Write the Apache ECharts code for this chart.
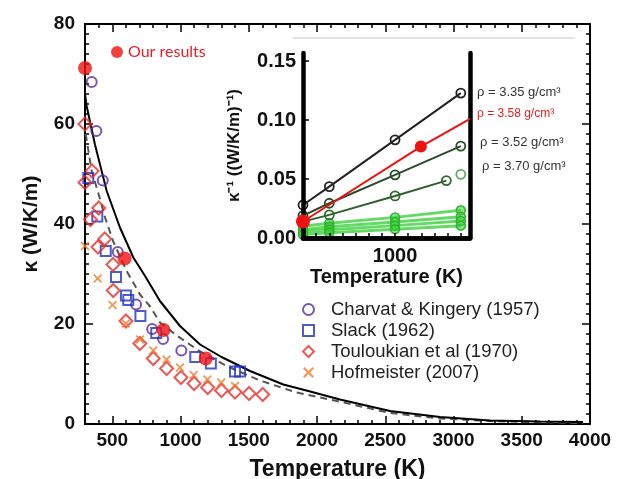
<!DOCTYPE html>
<html>
<head>
<meta charset="utf-8">
<script src="https://cdn.jsdelivr.net/npm/echarts@6/dist/echarts.min.js"></script>
<style>
  html, body { margin: 0; padding: 0; background: #fff; }
  #chart { width: 617px; height: 479px; }
</style>
</head>
<body>
<div id="chart"></div>
<script>
// main plot: kappa (W/K/m) vs temperature (K)
const majorTicksX = [500, 1000, 1500, 2000, 2500, 3000, 3500, 4000]
const solidCurve = [[300, 66], [312, 63.6], [373, 55.9], [459, 46.6], [556, 39.3], [654, 33.3], [740, 29.6], [849, 24.6], [996, 19.6], [1143, 15.9], [1300, 13.4], [1509, 10.6], [1753, 7.9], [1936, 6.6], [2168, 4.9], [2535, 2.6], [2901, 1.4], [3267, 0.7], [3634, 0.5], [3949, 0.4]]
const dashedCurve = [[305, 58], [349, 50.6], [410, 45], [447, 41.3], [507, 36.5], [605, 30.6], [703, 25.9], [777, 23.5], [849, 20.3], [972, 17.7], [1143, 14.5], [1338, 11.6], [1582, 8.7], [1850, 6.3], [2144, 4.6], [2535, 2.2], [2901, 1.1], [3267, 0.6], [3634, 0.35], [3949, 0.2]]
const charvat = [[349, 68.4], [383, 58.6], [430, 48.7], [540, 34.4], [674, 23.9], [792, 19.0], [872, 17.0], [1006, 14.7]]
const slack = [[324, 49.2], [390, 41.5], [452, 34.6], [527, 29.4], [600, 25.7], [617, 24.8], [706, 21.6], [822, 18.2], [1108, 13.4], [1222, 12.1], [1399, 10.5], [1436, 10.5]]
const touloukian = [[300, 60], [300, 48.3], [340, 40.9], [352, 50.6], [401, 43.2], [395, 35.4], [445, 37], [505, 31.9], [507, 26.7], [600, 20.6], [702, 16.1], [800, 13.1], [898, 11.1], [1003, 9.3], [1099, 8.1], [1199, 7.3], [1300, 6.7], [1399, 6.4], [1502, 6.1], [1602, 5.9]]
const hofmeister = [[300, 35.6], [393, 29.1], [502, 23.8], [599, 20.1], [703, 16.9], [800, 14.7], [898, 12.9], [996, 11.3], [1096, 9.8], [1197, 8.9], [1298, 8.3], [1399, 7.6]]
const ourResults = [[300, 71.2], [590, 33.1], [875, 18.8], [1185, 13.1]]

// inset: 1/kappa vs temperature
const insetBlack = [[300, 0.028], [500, 0.0436], [1000, 0.0833], [1500, 0.123]]
const insetRed = [[300, 0.014], [1196, 0.0776], [1570, 0.101]]
const insetDark1 = [[300, 0.019], [500, 0.0295], [1000, 0.0536], [1500, 0.078]]
const insetDark2 = [[300, 0.0139], [500, 0.0196], [1000, 0.0357], [1390, 0.0487]]
const insetDarkDot = [[1500, 0.054]]
const insetGreen = [
  [[300, 0.010], [500, 0.0125], [1000, 0.0175], [1500, 0.0235]],
  [[300, 0.007], [500, 0.0095], [1000, 0.0135], [1500, 0.018]],
  [[300, 0.005], [500, 0.007], [1000, 0.0105], [1500, 0.0145]],
  [[300, 0.003], [500, 0.0045], [1000, 0.0075], [1500, 0.0105]]
]
const densityLabels = ['ρ = 3.35 g/cm³', 'ρ = 3.58 g/cm³', 'ρ = 3.52 g/cm³', 'ρ = 3.70 g/cm³']

const FONT = 'Liberation Sans'
const crossPath = 'path://M0,1.4L1.4,0L5,3.6L8.6,0L10,1.4L6.4,5L10,8.6L8.6,10L5,6.4L1.4,10L0,8.6L3.6,5Z'

const chart = echarts.init(document.getElementById('chart'))

const tickLabel = { fontFamily: FONT, fontWeight: 'bold', fontSize: 19, color: '#111' }
const blackLine = { lineStyle: { color: '#000', width: 2 } }
const plain = (v) => String(v)

// open markers, overlapping ones stay visible
const hollow = (color, w) => ({ color: 'rgba(255,255,255,0)', borderColor: color, borderWidth: w })

const greenSeries = insetGreen.map((d) => ({
  type: 'line',
  xAxisIndex: 4,
  yAxisIndex: 2,
  data: d,
  symbol: 'circle',
  symbolSize: 9,
  itemStyle: { color: 'rgba(60,205,60,0.6)', borderColor: '#2fb52f', borderWidth: 1.5 },
  lineStyle: { color: '#3fcf3f', width: 3, opacity: 0.8 },
  z: 3
}))

chart.setOption({
  animation: false,
  backgroundColor: '#fff',
  grid: [
    { left: 85, right: 27, top: 24, bottom: 55, outerBoundsMode: 'none', containLabel: false },
    { left: 303, top: 53, width: 167, height: 185, outerBoundsMode: 'none', containLabel: false }
  ],
  legend: [
    {
      left: 302,
      top: 300,
      orient: 'vertical',
      itemWidth: 11,
      itemHeight: 11,
      itemGap: 2,
      padding: 0,
      textStyle: { fontFamily: FONT, fontSize: 18.5, color: '#222', padding: [0, 0, 0, 12] },
      data: ['Charvat & Kingery (1957)', 'Slack (1962)', 'Touloukian et al (1970)', 'Hofmeister (2007)']
    },
    {
      left: 111,
      top: 44,
      itemWidth: 12,
      itemHeight: 12,
      padding: 0,
      textStyle: { fontFamily: 'Lato', fontSize: 16, color: '#e0202a' },
      data: ['Our results']
    }
  ],
  xAxis: [
    {
      gridIndex: 0, type: 'value', position: 'bottom', min: 300, max: 4000,
      axisLine: blackLine,
      axisTick: { inside: true, length: 8, customValues: majorTicksX, lineStyle: { color: '#000', width: 1.5 } },
      axisLabel: Object.assign({ customValues: majorTicksX, margin: 7, formatter: plain }, tickLabel),
      splitLine: { show: false },
      name: 'Temperature (K)',
      nameLocation: 'middle',
      nameGap: 34,
      nameTextStyle: { fontFamily: FONT, fontWeight: 'bold', fontSize: 23, color: '#111' }
    },
    {
      gridIndex: 0, type: 'value', position: 'bottom', offset: 0, min: 300, max: 4000, interval: 100,
      axisLine: { show: false },
      axisTick: { inside: true, length: 4, lineStyle: { color: '#000', width: 1.5 } },
      axisLabel: { show: false },
      splitLine: { show: false }
    },
    {
      gridIndex: 0, type: 'value', position: 'top', min: 300, max: 4000,
      axisLine: blackLine,
      axisTick: { inside: true, length: 8, customValues: majorTicksX, lineStyle: { color: '#000', width: 1.5 } },
      axisLabel: { show: false },
      splitLine: { show: false }
    },
    {
      gridIndex: 0, type: 'value', position: 'top', offset: 0, min: 300, max: 4000, interval: 100,
      axisLine: { show: false },
      axisTick: { inside: true, length: 4, lineStyle: { color: '#000', width: 1.5 } },
      axisLabel: { show: false },
      splitLine: { show: false }
    },
    {
      gridIndex: 1, type: 'value', position: 'bottom', min: 300, max: 1570, interval: 100,
      axisLine: { lineStyle: { color: '#000', width: 4.5 } },
      axisTick: { inside: true, length: 5, lineStyle: { color: '#000', width: 1.5 } },
      axisLabel: Object.assign({ margin: 8, formatter: (v) => (v === 1000 ? '1000' : '') }, tickLabel, { fontSize: 20 }),
      splitLine: { show: false },
      name: 'Temperature (K)',
      nameLocation: 'middle',
      nameGap: 29,
      nameTextStyle: { fontFamily: FONT, fontWeight: 'bold', fontSize: 20, color: '#111' },
      z: 5
    },
    {
      gridIndex: 1, type: 'value', position: 'top', min: 300, max: 1570,
      axisLine: { lineStyle: { color: '#000', width: 4.5 } },
      axisTick: { show: false },
      axisLabel: { show: false },
      splitLine: { show: false },
      z: 5
    }
  ],
  yAxis: [
    {
      gridIndex: 0, type: 'value', position: 'left', min: 0, max: 80, interval: 20,
      axisLine: blackLine,
      axisTick: { inside: true, length: 8, lineStyle: { color: '#000', width: 1.5 } },
      minorTick: { show: true, splitNumber: 10, length: 4, lineStyle: { color: '#000', width: 1.5 } },
      axisLabel: Object.assign({ margin: 10 }, tickLabel),
      splitLine: { show: false },
      name: 'κ (W/K/m)',
      nameLocation: 'middle',
      nameGap: 43,
      nameTextStyle: { fontFamily: FONT, fontWeight: 'bold', fontSize: 21, color: '#111' }
    },
    {
      gridIndex: 0, type: 'value', position: 'right', min: 0, max: 80, interval: 20,
      axisLine: blackLine,
      axisTick: { inside: true, length: 8, lineStyle: { color: '#000', width: 1.5 } },
      minorTick: { show: true, splitNumber: 10, length: 4, lineStyle: { color: '#000', width: 1.5 } },
      axisLabel: { show: false },
      splitLine: { show: false }
    },
    {
      gridIndex: 1, type: 'value', position: 'left', min: 0, max: 0.157, interval: 0.05,
      axisLine: { lineStyle: { color: '#000', width: 4.5 } },
      axisTick: { inside: true, length: 6, lineStyle: { color: '#000', width: 1.5 } },
      axisLabel: Object.assign({ margin: 7, formatter: (v) => v.toFixed(2) }, tickLabel, { fontSize: 20 }),
      splitLine: { show: false },
      name: 'κ⁻¹ ((W/K/m)⁻¹)',
      nameLocation: 'middle',
      nameGap: 60,
      nameTextStyle: { fontFamily: FONT, fontWeight: 'bold', fontSize: 17, color: '#111' },
      z: 5
    },
    {
      gridIndex: 1, type: 'value', position: 'right', min: 0, max: 0.157,
      axisLine: { lineStyle: { color: '#000', width: 4.5 } },
      axisTick: { show: false },
      axisLabel: { show: false },
      splitLine: { show: false },
      z: 5
    }
  ],
  graphic: [
    { type: 'line', shape: { x1: 293, y1: 38, x2: 575, y2: 38 }, style: { stroke: '#c4c4c4', lineWidth: 1 }, z: 1 },
    { type: 'text', x: 477, y: 86, style: { text: densityLabels[0], font: '13px "Liberation Sans"', fill: '#333' }, z: 10 },
    { type: 'text', x: 477, y: 108, style: { text: densityLabels[1], font: '12px "Liberation Sans"', fill: '#e02020' }, z: 10 },
    { type: 'text', x: 480, y: 136, style: { text: densityLabels[2], font: '13px "Liberation Sans"', fill: '#333' }, z: 10 },
    { type: 'text', x: 482, y: 160, style: { text: densityLabels[3], font: '13px "Liberation Sans"', fill: '#333' }, z: 10 }
  ],
  series: [
    {
      name: 'dashed',
      type: 'line',
      data: dashedCurve,
      showSymbol: false,
      lineStyle: { color: '#555', width: 2, type: [7, 5] },
      z: 2
    },
    {
      name: 'solid',
      type: 'line',
      data: solidCurve,
      showSymbol: false,
      lineStyle: { color: '#000', width: 2 },
      z: 2
    },
    {
      name: 'Charvat & Kingery (1957)',
      type: 'scatter',
      data: charvat,
      symbol: 'circle',
      symbolSize: 10,
      itemStyle: hollow('#5b2a9e', 2),
      z: 3
    },
    {
      name: 'Slack (1962)',
      type: 'scatter',
      data: slack,
      symbol: 'rect',
      symbolSize: 10,
      itemStyle: hollow('#1f33c4', 2),
      z: 3
    },
    {
      name: 'Touloukian et al (1970)',
      type: 'scatter',
      data: touloukian,
      symbol: 'diamond',
      symbolSize: 13,
      itemStyle: hollow('#e4302a', 2),
      z: 3
    },
    {
      name: 'Hofmeister (2007)',
      type: 'scatter',
      data: hofmeister,
      symbol: crossPath,
      symbolSize: 9,
      itemStyle: { color: '#ec7a2a' },
      z: 3
    },
    {
      name: 'Our results',
      type: 'scatter',
      data: ourResults,
      symbol: 'circle',
      symbolSize: 14,
      itemStyle: { color: '#ee1111' },
      z: 6
    },
    // inset series
    ...greenSeries,
    {
      type: 'line', xAxisIndex: 4, yAxisIndex: 2, data: insetDark2,
      symbol: 'circle', symbolSize: 9,
      itemStyle: hollow('#2d6a2d', 1.8),
      lineStyle: { color: '#2f5f2f', width: 2 },
      z: 4
    },
    {
      type: 'scatter', xAxisIndex: 4, yAxisIndex: 2, data: insetDarkDot,
      symbol: 'circle', symbolSize: 9,
      itemStyle: hollow('#3a9a3a', 1.8),
      z: 4
    },
    {
      type: 'line', xAxisIndex: 4, yAxisIndex: 2, data: insetDark1,
      symbol: 'circle', symbolSize: 9,
      itemStyle: hollow('#264f26', 1.8),
      lineStyle: { color: '#2b4a2b', width: 2 },
      z: 4
    },
    {
      type: 'line', xAxisIndex: 4, yAxisIndex: 2, data: insetBlack,
      symbol: 'circle', symbolSize: 9,
      itemStyle: hollow('#222', 1.8),
      lineStyle: { color: '#222', width: 2 },
      z: 4
    },
    {
      type: 'line', xAxisIndex: 4, yAxisIndex: 2,
      data: insetRed.map((p, i) => ({ value: p, symbolSize: i === 0 ? 14 : (i === 1 ? 12 : 0) })),
      symbol: 'circle',
      itemStyle: { color: '#ee1111' },
      lineStyle: { color: '#ee1111', width: 2 },
      z: 6
    }
  ]
})
</script>
</body>
</html>
